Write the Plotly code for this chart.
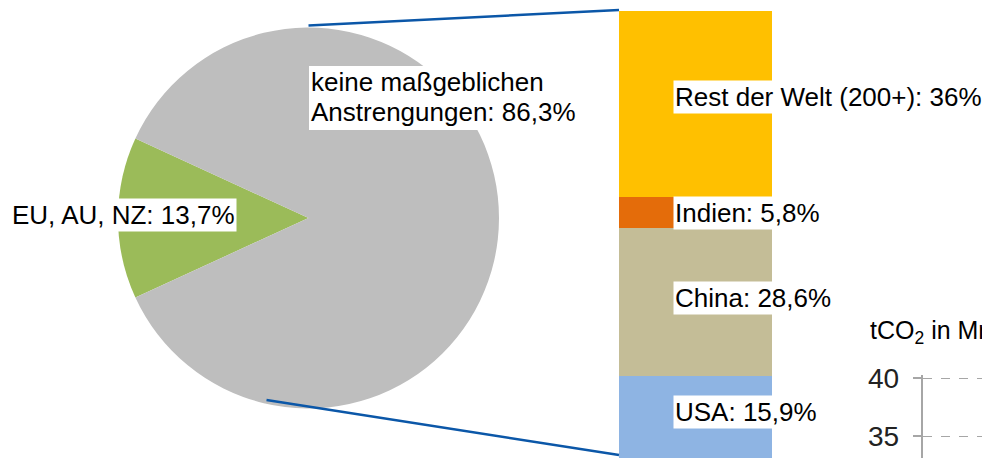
import math
import plotly.graph_objects as go

# ---- data ----
pie_labels = ["EU, AU, NZ", "keine maßgeblichen Anstrengungen"]
pie_values = [13.7, 86.3]
pie_text = ["EU, AU, NZ: 13,7%", ["keine maßgeblichen", "Anstrengungen: 86,3%"]]
pie_colors = ["#9BBB59", "#BEBEBE"]

bar_labels = ["USA", "China", "Indien", "Rest der Welt (200+)"]
bar_values = [15.9, 28.6, 5.8, 36.0]
bar_text = ["USA: 15,9%", "China: 28,6%", "Indien: 5,8%", "Rest der Welt (200+): 36%"]
bar_colors = ["#8EB4E3", "#C4BD97", "#E46C0A", "#FFC000"]

side_ticks = [35, 40]
side_title = "tCO<sub>2</sub> in Mrd."

# ---- layout geometry (pixels of the 990x458 window) ----
VW, VH = 990, 458
OFF = 8                      # default page body margin
W, H = VW - OFF, VH - OFF
FONT = "Liberation Sans, Arial, sans-serif"
cx, cy, r = 308.5, 218.0, 190.5
bar_x0, bar_x1 = 619, 772
bar_top_px = 11
label_yshift = [5, 4, -1, 7]     # pixel nudges of the bar labels
total = sum(bar_values)


def px(x):
    return (x - OFF) / W


def py(y):
    return 1 - (y - OFF) / H


fig = go.Figure()

green_span = pie_values[0] / sum(pie_values) * 360
fig.add_trace(go.Pie(
    labels=pie_labels, values=pie_values, sort=False, direction="clockwise",
    rotation=270 - green_span / 2,
    marker=dict(colors=pie_colors, line=dict(width=0)),
    textinfo="none", hoverinfo="label+percent", showlegend=False,
    domain=dict(x=[px(cx - r), px(cx + r)], y=[py(cy + r), py(cy - r)]),
))

for lab, val, col in zip(bar_labels, bar_values, bar_colors):
    fig.add_trace(go.Bar(
        x=[0], y=[val], name=lab, marker=dict(color=col, line=dict(width=0)),
        width=1, showlegend=False, xaxis="x2", yaxis="y2",
    ))

fig.add_trace(go.Scatter(x=[0.5], y=[None], xaxis="x3", yaxis="y3",
                         showlegend=False, hoverinfo="skip"))

y40_px, y35_px = 378, 436
ppu = (y35_px - y40_px) / (side_ticks[1] - side_ticks[0])
top_val = side_ticks[1] + 0.3
bot_val = side_ticks[0] - (VH - y35_px) / ppu
top_px = y40_px - 0.3 * ppu

lab_font = dict(family=FONT, size=26, color="black")
annotations = []
annotations.append(dict(x=px(10), y=py(215), xref="paper", yref="paper",
                        text=pie_text[0], showarrow=False, xanchor="left", yanchor="middle",
                        bgcolor="white", borderpad=1, font=lab_font))
for line, yc in zip(pie_text[1], [82, 112]):
    annotations.append(dict(x=px(309), y=py(yc), xref="paper", yref="paper",
                            text=line, showarrow=False, xanchor="left", yanchor="middle",
                            font=lab_font))
cum = 0
for t, v, sh in zip(bar_text, bar_values, label_yshift):
    mid = cum + v / 2
    cum += v
    annotations.append(dict(x=px(673), y=mid, xref="paper", yref="y2", yshift=sh,
                            text=t, showarrow=False, xanchor="left", yanchor="middle",
                            bgcolor="white", borderpad=1, font=lab_font))
annotations.append(dict(x=px(868), y=py(332), xref="paper", yref="paper",
                        text=side_title, showarrow=False, xanchor="left", yanchor="middle",
                        font=dict(family=FONT, size=25, color="black")))
for tv in side_ticks:
    annotations.append(dict(x=px(901), y=tv, xref="paper", yref="y3",
                            text=str(tv), showarrow=False, xanchor="right", yanchor="middle",
                            font=dict(family=FONT, size=28, color="#222")))

a_top, a_bot = math.radians(90), math.radians(257)
p_top = (cx + r * math.cos(a_top), cy - r * math.sin(a_top) - 2)
p_bot = (cx + 0.98 * r * math.cos(a_bot), cy - 0.98 * r * math.sin(a_bot))
shapes = [
    dict(type="line", xref="paper", yref="paper", x0=px(p_top[0]), y0=py(p_top[1]),
         x1=px(bar_x0), y1=py(bar_top_px - 1), line=dict(color="#0B57A8", width=2.5)),
    dict(type="line", xref="paper", yref="paper", x0=px(p_bot[0]), y0=py(p_bot[1]),
         x1=px(bar_x0), y1=py(VH - 3), line=dict(color="#0B57A8", width=2.5)),
    dict(type="rect", xref="paper", yref="paper", layer="above",
         x0=px(309), x1=px(580), y0=py(130), y1=py(66),
         fillcolor="white", line=dict(width=0)),
]

fig.update_layout(
    template="none",
    width=W, height=H, autosize=False,
    margin=dict(l=0, r=0, t=0, b=0, pad=0),
    paper_bgcolor="white", plot_bgcolor="rgba(0,0,0,0)",
    barmode="stack", bargap=0,
    xaxis=dict(visible=False, automargin=False),
    yaxis=dict(visible=False, automargin=False),
    xaxis2=dict(domain=[px(bar_x0), px(bar_x1)], range=[-0.5, 0.5], visible=False,
                anchor="y2", fixedrange=True, automargin=False),
    yaxis2=dict(domain=[0, py(bar_top_px)], range=[0, total],
                visible=False, anchor="x2", fixedrange=True, automargin=False),
    xaxis3=dict(domain=[px(923), 1], range=[0, 1], visible=False, anchor="y3",
                automargin=False),
    yaxis3=dict(domain=[0, py(top_px)], range=[bot_val, top_val], anchor="x3",
                tickvals=side_ticks, showticklabels=False,
                showline=True, linecolor="#A6A6A6", linewidth=1.5,
                ticks="outside", ticklen=8, tickcolor="#A6A6A6", tickwidth=1.5,
                automargin=False,
                showgrid=True, gridcolor="#A6A6A6", griddash="dash", gridwidth=1,
                zeroline=False),
    annotations=annotations, shapes=shapes,
)

fig.write_html("out.html")
